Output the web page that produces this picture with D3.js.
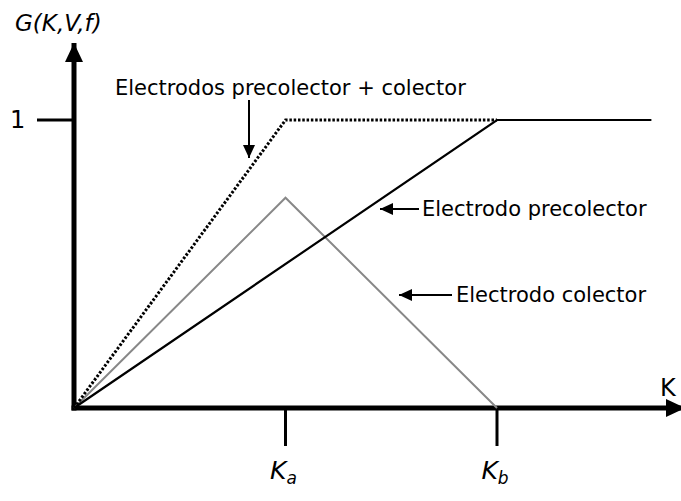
<!DOCTYPE html>
<html>
<head>
<meta charset="utf-8">
<script src="https://cdn.jsdelivr.net/npm/d3@7"></script>
<style>
  body { margin: 0; background: #fff; }
  svg text { font-family: "DejaVu Sans", Verdana, sans-serif; fill: #000; }
</style>
</head>
<body>
<div id="chart"></div>
<script>
// K positions (Ka = 1, Kb = 2)
const kTicks = [1, 2];
const kTickLabels = ["a", "b"];
const yTicks = [1];

// series: K values and G values
const combinedK = [0, 1, 2];
const combinedG = [0, 1, 1];
const precolK = [0, 2, 2.73];
const precolG = [0, 1, 1];
const colK = [0, 1, 2];
const colG = [0, 0.73, 0];

const W = 681, H = 501;
const svg = d3.select("#chart").append("svg")
    .attr("width", W).attr("height", H);

const x = d3.scaleLinear().domain([0, 2]).range([74, 497]);
const y = d3.scaleLinear().domain([0, 1]).range([408, 120]);

const defs = svg.append("defs");
function marker(id, w, h) {
    defs.append("marker")
        .attr("id", id)
        .attr("viewBox", `0 0 ${w} ${h}`)
        .attr("refX", w).attr("refY", h / 2)
        .attr("markerWidth", w).attr("markerHeight", h)
        .attr("markerUnits", "userSpaceOnUse")
        .attr("orient", "auto")
        .append("path")
        .attr("d", `M0,0L${w},${h / 2}L0,${h}Z`)
        .attr("fill", "#000");
}
marker("axisHead", 19, 18);
marker("noteHead", 13, 12);

// 1. Axes
svg.append("line")
    .attr("x1", x(0)).attr("y1", y(0) + 2.5)
    .attr("x2", x(0)).attr("y2", 43)
    .attr("stroke", "#000").attr("stroke-width", 5)
    .attr("marker-end", "url(#axisHead)");

svg.append("line")
    .attr("x1", x(0) - 2.5).attr("y1", y(0))
    .attr("x2", 685).attr("y2", y(0))
    .attr("stroke", "#000").attr("stroke-width", 5)
    .attr("marker-end", "url(#axisHead)");

// tick marks
svg.selectAll(".ktick")
    .data(kTicks)
    .enter().append("line")
    .attr("x1", d => x(d)).attr("x2", d => x(d))
    .attr("y1", y(0)).attr("y2", 446)
    .attr("stroke", "#000").attr("stroke-width", 3);

const kLab = svg.selectAll(".klab")
    .data(kTicks)
    .enter().append("text")
    .attr("x", d => x(d) - 2)
    .attr("y", 479)
    .attr("text-anchor", "middle")
    .attr("font-style", "italic")
    .attr("font-size", 25);
kLab.append("tspan").text("K");
kLab.append("tspan")
    .attr("font-size", 17).attr("dy", 5)
    .text((d, i) => kTickLabels[i]);

svg.selectAll(".ytick")
    .data(yTicks)
    .enter().append("line")
    .attr("x1", 37).attr("x2", x(0))
    .attr("y1", d => y(d)).attr("y2", d => y(d))
    .attr("stroke", "#000").attr("stroke-width", 3);

svg.selectAll(".ylab")
    .data(yTicks)
    .enter().append("text")
    .attr("x", 10).attr("y", d => y(d) + 8)
    .attr("font-size", 24)
    .text(d => d);

svg.append("text")
    .attr("x", 15).attr("y", 31)
    .attr("font-size", 23).attr("font-style", "italic")
    .text("G(K,V,f)");

svg.append("text")
    .attr("x", 660).attr("y", 396)
    .attr("font-size", 24)
    .text("K");

// 2. Curves
const line = d3.line().x(d => x(d[0])).y(d => y(d[1]));

svg.append("path")
    .datum(colK.map((k, i) => [k, colG[i]]))
    .attr("d", line)
    .attr("fill", "none").attr("stroke", "#888").attr("stroke-width", 2);

svg.append("path")
    .datum(precolK.map((k, i) => [k, precolG[i]]))
    .attr("d", line)
    .attr("fill", "none").attr("stroke", "#000").attr("stroke-width", 2.2);

svg.append("path")
    .datum(combinedK.map((k, i) => [k, combinedG[i]]))
    .attr("d", line)
    .attr("fill", "none").attr("stroke", "#000").attr("stroke-width", 3)
    .attr("stroke-dasharray", "2.5,1.8");

// 3. Annotations
svg.append("text")
    .attr("x", 115).attr("y", 95)
    .attr("font-size", 21)
    .text("Electrodos precolector + colector");
svg.append("line")
    .attr("x1", 249).attr("y1", 100).attr("x2", 249).attr("y2", 158)
    .attr("stroke", "#000").attr("stroke-width", 2)
    .attr("marker-end", "url(#noteHead)");

svg.append("text")
    .attr("x", 422).attr("y", 216)
    .attr("font-size", 21)
    .text("Electrodo precolector");
svg.append("line")
    .attr("x1", 419).attr("y1", 209).attr("x2", 380).attr("y2", 209)
    .attr("stroke", "#000").attr("stroke-width", 2)
    .attr("marker-end", "url(#noteHead)");

svg.append("text")
    .attr("x", 456).attr("y", 302)
    .attr("font-size", 21)
    .text("Electrodo colector");
svg.append("line")
    .attr("x1", 452).attr("y1", 295).attr("x2", 399).attr("y2", 295)
    .attr("stroke", "#000").attr("stroke-width", 2)
    .attr("marker-end", "url(#noteHead)");
</script>
</body>
</html>
